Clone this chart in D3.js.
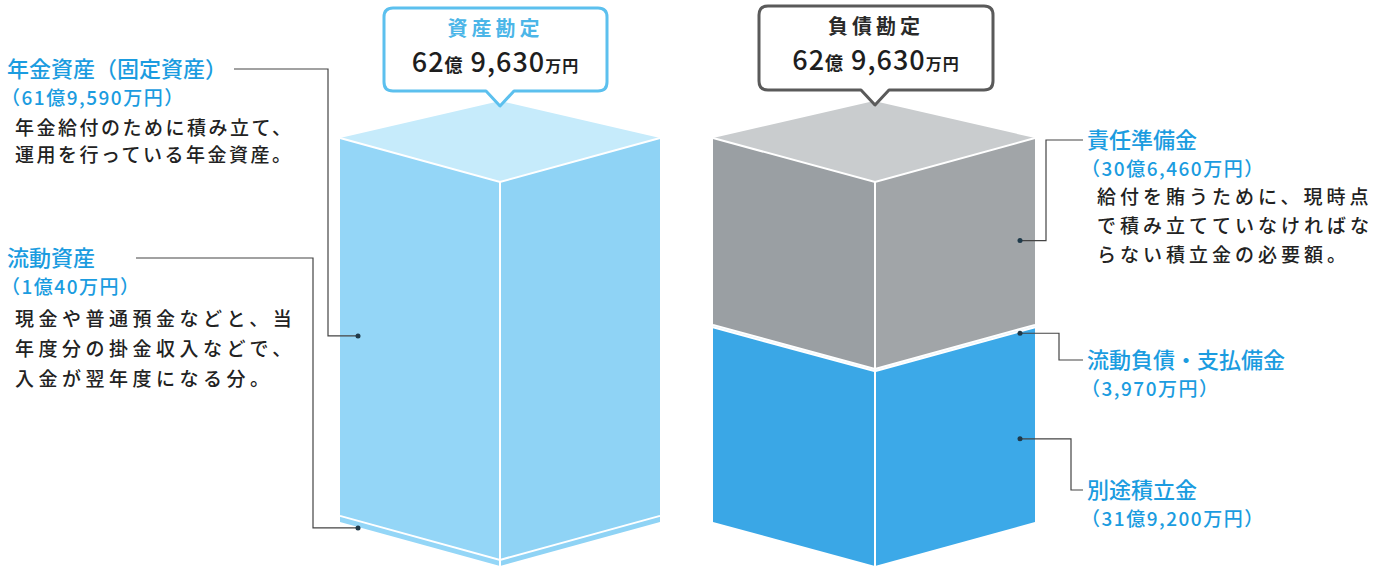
<!DOCTYPE html>
<html>
<head>
<meta charset="utf-8">
<script src="https://cdn.jsdelivr.net/npm/d3@7"></script>
<style>
  body { margin: 0; background: #fff; }
  svg { display: block; font-family: "Noto Sans CJK JP", "Noto Sans", sans-serif; }
</style>
</head>
<body>
<svg id="chart" width="1384" height="573"></svg>
<script>
// values in 万円, stacked bottom to top
var assetNames = ["流動資産", "年金資産"];
var assetValues = [10040, 619590];
var liabNames = ["別途積立金", "流動負債・支払備金", "責任準備金"];
var liabValues = [319200, 3970, 306460];
var totalLabel = ["62", "億", " 9,630", "万円"];

var svg = d3.select("svg#chart"),
    baseY = 522,
    boxH = 384,
    dz = 44,
    backDz = 37,
    total = d3.sum(assetValues),
    h_scale = d3.scaleLinear().domain([0, total]).range([0, boxH]);

function drawBox(g, x0, xf, x1, values, fills) {
    var cum = 0, tops = [];
    values.forEach(function (v, i) {
        var yb = baseY - h_scale(cum), yt = baseY - h_scale(cum + v);
        cum += v;
        tops.push(yt);
        g.append("polygon")
            .attr("points", [[x0, yt], [xf, yt + dz], [xf, yb + dz], [x0, yb]].join(" "))
            .style("fill", fills[i][0]);
        g.append("polygon")
            .attr("points", [[xf, yt + dz], [x1, yt], [x1, yb], [xf, yb + dz]].join(" "))
            .style("fill", fills[i][1]);
    });
    var top = tops[tops.length - 1];
    g.append("polygon")
        .attr("points", [[x0, top], [(x0 + x1) / 2, top - backDz], [x1, top], [xf, top + dz]].join(" "))
        .style("fill", fills[fills.length - 1][2]);
    // white edges
    tops.forEach(function (yt) {
        g.append("polyline")
            .attr("points", [[x0, yt], [xf, yt + dz], [x1, yt]].join(" "))
            .style("fill", "none")
            .style("stroke", "#fff")
            .style("stroke-width", 2);
    });
    g.append("line")
        .attr("x1", xf).attr("x2", xf)
        .attr("y1", top + dz).attr("y2", baseY + dz)
        .style("stroke", "#fff")
        .style("stroke-width", 2);
    return tops;
}

var leftTops = drawBox(svg.append("g"), 340, 500, 660, assetValues,
    [["#94d6f7", "#8fd3f5", "#c6ebfb"], ["#94d6f7", "#8fd3f5", "#c6ebfb"]]);
var rightTops = drawBox(svg.append("g"), 713, 875, 1035, liabValues,
    [["#3aa7e6", "#3ca9e8", "#c9ccce"], ["#d8eef9", "#d8eef9", "#c9ccce"], ["#9a9fa3", "#a1a5a8", "#c9ccce"]]);

// y on a face at a given x, mid of segment
function faceMid(tops, i, x, x0, xf, x1) {
    var yb = i === 0 ? baseY : tops[i - 1], yt = tops[i];
    var off = x < xf ? (x - x0) / (xf - x0) * dz : (x1 - x) / (x1 - xf) * dz;
    return (yb + yt) / 2 + off;
}

// speech bubbles
function bubble(x, y, w, h, tipX, stroke, title, titleColor) {
    var g = svg.append("g");
    var r = 9, b = y + h;
    var p = "M" + (x + r) + "," + y + " H" + (x + w - r) + " Q" + (x + w) + "," + y + " " + (x + w) + "," + (y + r) +
        " V" + (b - r) + " Q" + (x + w) + "," + b + " " + (x + w - r) + "," + b +
        " H" + (tipX + 14) + " L" + tipX + "," + (b + 15) + " L" + (tipX - 14) + "," + b +
        " H" + (x + r) + " Q" + x + "," + b + " " + x + "," + (b - r) + " V" + (y + r) + " Q" + x + "," + y + " " + (x + r) + "," + y + " Z";
    g.append("path").attr("d", p)
        .style("fill", "#fff")
        .style("stroke", stroke)
        .style("stroke-width", 3)
        .style("stroke-linejoin", "round");
    g.append("text")
        .attr("x", x + w / 2)
        .attr("y", y + 28)
        .style("text-anchor", "middle")
        .style("font-size", "20px")
        .style("font-weight", "bold")
        .style("letter-spacing", "4px")
        .attr("fill", titleColor)
        .text(title);
    var t = g.append("text")
        .attr("x", x + w / 2)
        .attr("y", y + 64)
        .style("text-anchor", "middle")
        .style("letter-spacing", "1px")
        .attr("fill", "#1e1e1e");
    var sizes = ["27px", "18px", "27px", "16px"];
    totalLabel.forEach(function (s, i) {
        t.append("tspan").style("font-size", sizes[i]).style("font-weight", i === 1 || i === 3 ? "bold" : "500").text(s);
    });
}
bubble(384, 8, 223, 83, 500, "#5cc0ee", "資産勘定", "#4cb6e8");
bubble(759, 6, 234, 84, 875, "#5a5a5a", "負債勘定", "#2a2a2a");

// labels
var blue = "#1b9ce0", dark = "#222";
function label(x, y, title, amount, lines, lineX, spacing, lineY) {
    var g = svg.append("g");
    g.append("text").attr("x", x).attr("y", y).attr("fill", blue)
        .style("font-size", "22px").style("font-weight", "500").text(title);
    g.append("text").attr("x", x - 6).attr("y", y + 28).attr("fill", blue)
        .style("font-size", "19px").style("font-weight", "500").style("letter-spacing", "1.5px").text(amount);
    lines.forEach(function (s, i) {
        g.append("text").attr("x", lineX).attr("y", lineY + i * spacing[0]).attr("fill", dark)
            .style("font-size", "19px").style("font-weight", "500").style("letter-spacing", spacing[1] + "px").text(s);
    });
}
label(7, 77, "年金資産（固定資産）", "（61億9,590万円）",
    ["年金給付のために積み立て、", "運用を行っている年金資産。"], 15, [27, 2.5], 135);
label(7, 266, "流動資産", "（1億40万円）",
    ["現金や普通預金などと、当", "年度分の掛金収入などで、", "入金が翌年度になる分。"], 15, [30, 4.5], 326);
label(1087, 148, "責任準備金", "（30億6,460万円）",
    ["給付を賄うために、現時点", "で積み立てていなければな", "らない積立金の必要額。"], 1097, [29, 4], 204);
label(1087, 368, "流動負債・支払備金", "（3,970万円）", [], 0, [0, 0], 0);
label(1087, 498, "別途積立金", "（31億9,200万円）", [], 0, [0, 0], 0);

// leader lines
function leader(pts) {
    svg.append("polyline")
        .attr("points", pts.join(" "))
        .style("fill", "none")
        .style("stroke", "#444")
        .style("stroke-width", 1.2);
    var d = pts[pts.length - 1];
    svg.append("circle").attr("cx", d[0]).attr("cy", d[1]).attr("r", 2.5).style("fill", "#1f3a4a");
}
var yA = faceMid(leftTops, 1, 358, 340, 500, 660) + 4;
var yB = faceMid(leftTops, 0, 358, 340, 500, 660) + 4;
leader([[234, 69], [328, 69], [328, yA], [358, yA]]);
leader([[136, 258], [313, 258], [313, yB], [358, yB]]);
var yR = faceMid(rightTops, 2, 1020, 713, 875, 1035) + 5;
var yS = faceMid(rightTops, 1, 1020, 713, 875, 1035) + 3;
var yT = faceMid(rightTops, 0, 1020, 713, 875, 1035) + 10;
leader([[1083, 140], [1046, 140], [1046, yR], [1020, yR]]);
leader([[1083, 360], [1059, 360], [1059, yS], [1020, yS]]);
leader([[1083, 490], [1071, 490], [1071, yT], [1020, yT]]);
</script>
</body>
</html>
